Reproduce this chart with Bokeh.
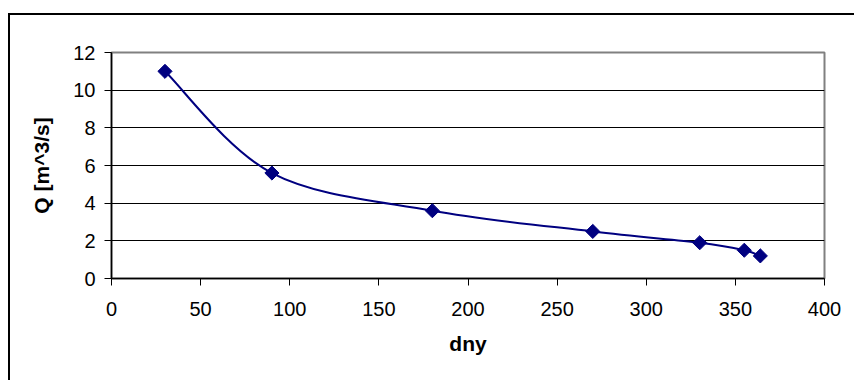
import numpy as np
from bokeh.plotting import figure
from bokeh.models import Range1d, FixedTicker, InlineStyleSheet
from bokeh.embed import file_html
from bokeh.resources import INLINE

# ---- data ----
days = [30, 90, 180, 270, 330, 355, 364]
flow = [11.0, 5.6, 3.6, 2.5, 1.9, 1.5, 1.2]
x_ticks = [0, 50, 100, 150, 200, 250, 300, 350, 400]
y_ticks = [0, 2, 4, 6, 8, 10, 12]
x_title = "dny"
y_title = "Q [m^3/s]"

NAVY = "#000080"
FONT = "Liberation Sans"

p = figure(width=854, height=380, output_backend="svg", toolbar_location=None,
           x_range=Range1d(0, 400), y_range=Range1d(0, 12),
           min_border_left=111, min_border_right=30,
           min_border_top=52, min_border_bottom=102,
           background_fill_color="white", border_fill_color="white")

p.outline_line_color = "#808080"
p.outline_line_width = 2

# grid
p.xgrid.visible = False
p.ygrid.ticker = FixedTicker(ticks=y_ticks)
p.ygrid.grid_line_color = "black"
p.ygrid.grid_line_width = 1

# axes
for ax, ticks in ((p.xaxis[0], x_ticks), (p.yaxis[0], y_ticks)):
    ax.ticker = FixedTicker(ticks=ticks)
    ax.axis_line_color = "black"
    ax.axis_line_width = 1.5
    ax.major_tick_line_color = "black"
    ax.major_tick_line_width = 1
    ax.major_tick_in = 0
    ax.major_tick_out = 7
    ax.minor_tick_line_color = None
    ax.major_label_text_font = FONT
    ax.major_label_text_font_size = "20px"
    ax.major_label_text_color = "black"
    ax.axis_label_text_font = FONT
    ax.axis_label_text_font_size = "21px"
    ax.axis_label_text_font_style = "bold"
    ax.axis_label_text_color = "black"

p.xaxis.axis_label = x_title
p.yaxis.axis_label = y_title
p.xaxis.major_label_standoff = 16
p.xaxis.axis_label_standoff = 13
p.yaxis.major_label_standoff = 9
p.yaxis.axis_label_standoff = 17

# smoothed line (Catmull-Rom style Bezier segments through the data points)
xs = np.array(days, dtype=float)
ys = np.array(flow, dtype=float)
n = len(xs)
x0, y0, x1, y1, cx0, cy0, cx1, cy1 = ([] for _ in range(8))
for i in range(n - 1):
    im1 = max(i - 1, 0)
    ip2 = min(i + 2, n - 1)
    x0.append(xs[i]); y0.append(ys[i])
    x1.append(xs[i + 1]); y1.append(ys[i + 1])
    cx0.append(xs[i] + (xs[i + 1] - xs[im1]) / 6.0)
    cy0.append(ys[i] + (ys[i + 1] - ys[im1]) / 6.0)
    cx1.append(xs[i + 1] - (xs[ip2] - xs[i]) / 6.0)
    cy1.append(ys[i + 1] - (ys[ip2] - ys[i]) / 6.0)
p.bezier(x0=x0, y0=y0, x1=x1, y1=y1, cx0=cx0, cy0=cy0, cx1=cx1, cy1=cy1,
         line_color=NAVY, line_width=2)

p.scatter(days, flow, marker="square", angle=np.pi / 4, size=10,
          fill_color=NAVY, line_color=NAVY, line_width=1)

# outer chart-area border (runs off the window at right/bottom)
p.stylesheets = [InlineStyleSheet(css="""
:host::after {
  content: "";
  position: fixed;
  left: 8px;
  top: 13px;
  width: 846px;
  height: 367px;
  box-sizing: border-box;
  border-left: 2px solid black;
  border-top: 2px solid black;
  pointer-events: none;
}
""")]

open("out.html", "w").write(file_html(p, INLINE))
